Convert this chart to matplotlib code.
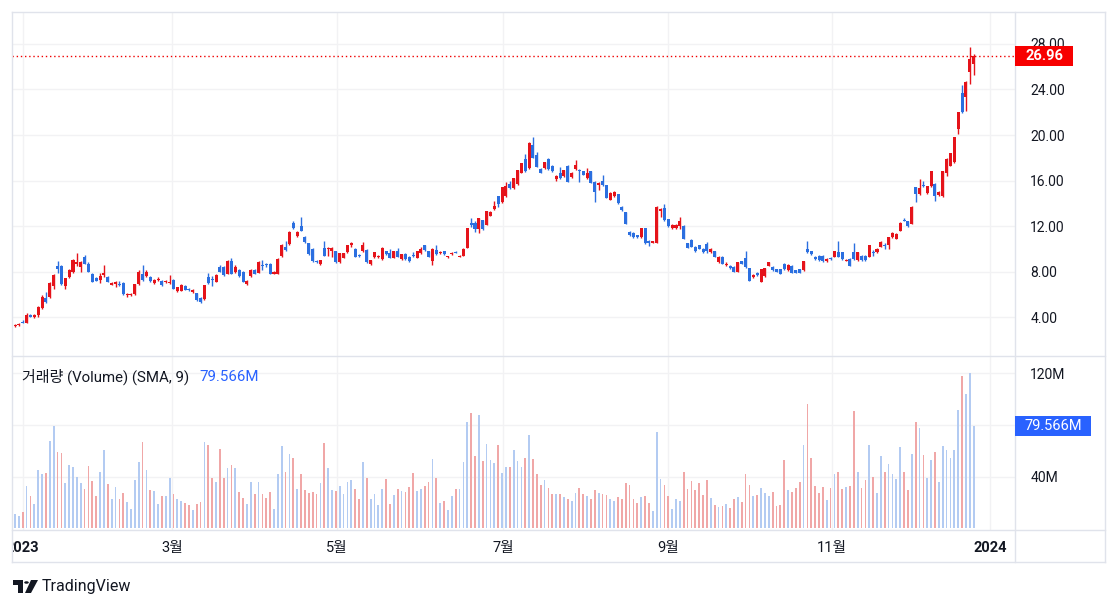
import numpy as np
import matplotlib
matplotlib.use("Agg")
import matplotlib.pyplot as plt
from matplotlib.patches import Rectangle, Polygon, Circle
from matplotlib.lines import Line2D

# daily candles, 2023 (red = up, blue = down)
opens = [
    3.20, 3.30, 3.60, 3.50, 4.20, 4.00, 4.20, 4.80, 5.70, 5.80,
    6.70, 8.45, 8.50, 6.70, 7.50, 8.00, 8.70, 8.40, 9.30, 8.70,
    7.80, 7.40, 7.30, 7.70, 7.50, 6.85, 6.95, 6.95, 7.00, 5.95,
    5.95, 6.00, 6.90, 7.80, 7.60, 7.50, 7.00, 7.25, 7.20, 7.05,
    7.00, 7.30, 6.30, 6.30, 6.70, 6.45, 6.20, 6.10, 5.65, 5.60,
    7.50, 7.35, 7.10, 8.40, 8.40, 7.80, 8.90, 8.00, 8.10, 8.00,
    6.90, 7.60, 8.10, 7.90, 8.55, 8.65, 8.70, 7.80, 7.80, 9.40,
    10.20, 10.40, 12.30, 11.10, 12.00, 11.00, 10.50, 10.00, 8.95, 8.70,
    10.10, 10.00, 9.80, 9.80, 8.80, 9.20, 9.70, 10.30, 10.00, 9.45,
    9.80, 9.90, 8.70, 9.30, 9.25, 9.10, 9.80, 9.60, 9.20, 9.80,
    9.10, 9.50, 9.30, 9.45, 9.20, 9.60, 10.30, 9.80, 8.90, 9.90,
    9.65, 9.80, 9.25, 9.55, 9.75, 9.30, 9.40, 10.10, 12.30, 12.30,
    11.70, 12.50, 12.10, 12.90, 13.50, 14.60, 14.10, 14.60, 15.70, 15.30,
    15.70, 16.70, 17.90, 17.10, 19.10, 18.20, 17.00, 17.10, 17.90, 17.30,
    16.10, 16.70, 16.40, 17.30, 16.30, 17.00, 16.95, 16.80, 16.20, 16.80,
    15.90, 15.60, 16.00, 15.60, 14.30, 14.60, 14.80, 13.70, 13.20, 11.50,
    11.40, 11.20, 11.00, 11.80, 10.70, 10.55, 10.55, 13.30, 13.60, 12.60,
    11.80, 11.80, 12.00, 12.00, 10.50, 10.80, 10.20, 10.30, 10.00, 10.40,
    9.70, 9.80, 8.80, 9.30, 8.55, 8.50, 8.40, 8.00, 8.90, 9.20,
    8.30, 7.50, 7.90, 7.10, 7.60, 8.50, 8.40, 8.20, 8.20, 8.70,
    8.10, 8.50, 8.10, 8.20, 8.10, 10.00, 9.80, 9.30, 9.40, 9.40,
    8.90, 9.20, 9.30, 9.70, 9.70, 8.95, 9.10, 9.70, 9.00, 9.40,
    9.40, 9.30, 9.75, 9.70, 10.20, 10.35, 10.30, 11.00, 10.90, 11.60,
    12.55, 12.40, 12.20, 15.40, 14.80, 15.60, 14.90, 15.50, 15.70, 14.70,
    14.60, 16.70, 17.30, 17.60, 20.50, 23.70, 23.30, 25.50, 26.20,
]
highs = [
    3.35, 3.45, 3.70, 4.35, 4.30, 4.25, 5.00, 5.90, 6.20, 7.10,
    7.80, 8.90, 8.60, 7.45, 8.20, 9.10, 9.60, 8.95, 9.45, 8.80,
    7.90, 7.50, 7.90, 8.60, 7.60, 7.05, 7.15, 7.20, 7.05, 6.10,
    6.15, 6.95, 8.10, 8.60, 8.10, 7.60, 7.35, 7.55, 7.30, 7.25,
    7.70, 7.35, 6.65, 6.90, 6.80, 6.55, 6.45, 6.15, 5.75, 6.85,
    7.85, 7.65, 7.80, 8.55, 8.50, 9.05, 9.20, 8.60, 8.20, 8.05,
    7.25, 8.20, 8.20, 8.95, 9.00, 8.75, 8.75, 8.05, 9.15, 10.40,
    10.70, 11.55, 12.40, 11.60, 12.80, 11.10, 10.55, 10.05, 9.05, 9.05,
    10.70, 10.15, 10.20, 9.85, 9.65, 9.65, 10.35, 10.60, 10.05, 9.55,
    10.60, 9.95, 9.05, 9.75, 9.45, 10.15, 9.85, 10.00, 9.85, 10.05,
    9.55, 9.60, 9.35, 9.70, 9.85, 10.15, 10.35, 9.85, 10.05, 10.30,
    9.80, 9.85, 9.40, 9.70, 9.85, 9.45, 10.10, 11.85, 12.70, 12.40,
    12.75, 12.55, 13.35, 13.30, 14.20, 14.65, 15.45, 15.90, 16.00, 16.25,
    16.95, 17.55, 18.30, 19.35, 19.80, 18.55, 17.10, 17.65, 18.00, 17.40,
    16.45, 17.20, 16.95, 17.35, 16.75, 17.80, 17.00, 16.85, 17.10, 16.85,
    15.95, 15.85, 16.50, 15.65, 14.95, 15.05, 14.85, 13.75, 13.25, 11.55,
    11.45, 11.25, 11.85, 11.85, 10.75, 10.70, 13.75, 13.55, 13.95, 12.65,
    12.15, 12.15, 12.80, 12.05, 10.55, 10.85, 10.25, 10.35, 10.05, 10.60,
    10.05, 9.85, 9.35, 9.35, 8.80, 8.55, 8.45, 8.85, 8.95, 9.80,
    8.35, 7.75, 8.00, 8.25, 8.35, 8.85, 8.45, 8.25, 8.25, 8.75,
    8.65, 8.55, 8.15, 8.25, 8.95, 10.70, 9.85, 9.35, 9.45, 9.45,
    9.15, 9.25, 9.85, 10.70, 9.75, 9.10, 9.15, 10.50, 9.75, 9.45,
    9.45, 10.35, 9.90, 10.05, 10.65, 10.50, 11.05, 11.45, 11.35, 12.35,
    12.70, 12.45, 13.75, 15.45, 16.10, 16.00, 15.55, 16.85, 15.75, 15.05,
    16.85, 17.95, 18.45, 19.85, 22.05, 24.40, 24.75, 27.70, 27.10,
]
lows = [
    3.15, 3.25, 3.45, 3.45, 4.00, 3.95, 4.05, 4.70, 5.20, 5.70,
    6.50, 7.90, 6.85, 6.50, 7.40, 7.90, 8.50, 8.00, 8.65, 7.95,
    7.05, 7.15, 7.00, 7.50, 7.05, 6.80, 6.60, 6.75, 5.95, 5.75,
    5.85, 5.90, 6.80, 7.20, 7.50, 7.10, 6.95, 7.15, 6.70, 7.00,
    6.95, 6.45, 6.20, 6.25, 6.35, 6.30, 6.10, 5.45, 5.20, 5.50,
    6.95, 6.70, 7.05, 7.95, 7.65, 7.75, 7.75, 7.90, 7.50, 7.05,
    6.80, 7.50, 7.75, 7.85, 8.10, 8.40, 7.75, 7.75, 7.75, 9.30,
    9.85, 10.35, 11.75, 11.05, 11.55, 10.55, 9.45, 8.85, 8.75, 8.60,
    9.35, 9.40, 9.30, 8.75, 8.75, 9.15, 9.60, 10.20, 9.25, 9.30,
    9.75, 8.75, 8.60, 9.20, 9.15, 9.05, 9.45, 9.15, 9.15, 9.25,
    9.05, 9.05, 8.85, 9.30, 9.15, 9.55, 9.85, 9.25, 8.60, 9.45,
    9.55, 9.45, 9.20, 9.45, 9.60, 9.25, 9.35, 10.05, 11.90, 11.50,
    11.40, 11.65, 12.05, 12.85, 13.45, 13.70, 14.05, 14.55, 15.25, 15.25,
    15.65, 16.65, 16.75, 17.05, 17.95, 17.15, 16.65, 17.05, 16.95, 16.75,
    15.95, 16.15, 16.35, 15.85, 16.25, 16.95, 15.90, 16.45, 16.15, 15.75,
    14.10, 15.20, 15.55, 14.45, 14.25, 14.55, 13.95, 13.35, 12.15, 11.15,
    10.95, 10.95, 10.95, 10.45, 10.25, 10.50, 10.50, 12.80, 12.45, 11.95,
    11.75, 11.75, 11.70, 10.85, 10.05, 10.15, 9.75, 9.95, 9.65, 9.60,
    9.65, 9.25, 8.75, 8.65, 8.50, 8.25, 7.95, 7.95, 8.65, 8.35,
    7.15, 7.45, 7.65, 7.05, 7.55, 8.45, 8.05, 7.95, 7.75, 8.15,
    8.05, 7.85, 7.85, 7.85, 8.05, 9.65, 9.45, 9.05, 8.95, 8.85,
    8.80, 9.05, 9.25, 9.25, 9.05, 8.90, 8.45, 9.05, 8.95, 8.95,
    8.95, 9.25, 9.40, 9.65, 10.15, 10.00, 10.00, 10.95, 10.85, 11.55,
    12.40, 11.95, 12.15, 14.10, 14.75, 15.45, 14.85, 15.45, 14.20, 14.60,
    14.55, 16.40, 17.25, 17.55, 20.10, 21.95, 22.10, 24.50, 25.30,
]
closes = [
    3.30, 3.40, 3.50, 4.20, 4.05, 4.20, 4.90, 5.80, 5.30, 7.00,
    7.70, 8.20, 6.90, 7.40, 8.10, 9.00, 8.80, 8.80, 8.70, 8.00,
    7.10, 7.20, 7.60, 7.90, 7.10, 7.00, 7.05, 6.80, 6.00, 6.05,
    6.05, 6.90, 8.00, 7.30, 8.00, 7.20, 7.30, 7.35, 6.80, 7.15,
    7.10, 6.50, 6.60, 6.80, 6.40, 6.35, 6.40, 5.50, 5.35, 6.80,
    7.00, 7.25, 7.70, 8.00, 7.70, 8.90, 7.80, 8.40, 7.60, 7.10,
    7.20, 8.10, 7.80, 8.80, 8.45, 8.55, 7.80, 8.00, 9.10, 10.30,
    9.90, 11.50, 11.80, 11.50, 11.60, 10.60, 9.50, 8.90, 8.85, 9.00,
    9.40, 10.10, 10.10, 8.80, 9.60, 9.60, 10.30, 10.50, 9.30, 9.35,
    10.30, 8.80, 9.00, 9.70, 9.35, 10.10, 9.50, 9.20, 9.80, 9.30,
    9.50, 9.10, 8.90, 9.35, 9.80, 10.00, 9.90, 9.30, 10.00, 9.50,
    9.75, 9.50, 9.35, 9.65, 9.65, 9.40, 10.00, 11.80, 12.10, 11.70,
    12.70, 11.70, 13.30, 13.20, 13.80, 13.90, 15.40, 15.50, 15.30, 16.20,
    16.90, 17.50, 16.80, 19.30, 18.00, 17.20, 16.70, 17.60, 17.00, 16.80,
    16.40, 16.20, 16.90, 15.90, 16.70, 17.40, 16.85, 16.50, 16.70, 15.80,
    15.00, 15.80, 15.60, 14.50, 14.90, 15.00, 14.00, 13.40, 12.20, 11.20,
    11.00, 11.00, 11.80, 10.50, 10.50, 10.65, 13.70, 13.50, 12.50, 12.00,
    12.10, 12.10, 12.40, 10.90, 10.10, 10.20, 9.80, 10.00, 9.70, 9.80,
    10.00, 9.30, 9.30, 8.70, 8.65, 8.30, 8.00, 8.80, 8.70, 8.40,
    7.20, 7.70, 7.70, 8.20, 8.30, 8.80, 8.10, 8.00, 7.80, 8.20,
    8.60, 7.90, 7.90, 7.90, 8.90, 9.70, 9.50, 9.10, 9.00, 8.90,
    9.10, 9.10, 9.80, 9.30, 9.10, 9.05, 8.50, 9.10, 9.70, 9.00,
    9.00, 10.30, 9.65, 10.00, 10.60, 10.25, 11.00, 11.40, 11.30, 12.30,
    12.45, 12.00, 13.70, 14.80, 15.30, 15.50, 15.50, 16.80, 14.60, 15.00,
    16.80, 17.90, 18.40, 19.80, 22.00, 22.00, 24.70, 26.70, 26.96,
]
# volume in millions
volumes = [
    11.5, 10, 13, 32.5, 25.4, 19.2, 45.4, 42.3, 42.8, 67.7,
    79.5, 59.2, 58.2, 35.1, 49, 47.4, 39.7, 35, 30.8, 48.5,
    36.7, 24.9, 43.8, 60.8, 34.6, 22.8, 32, 22.8, 27.4, 20.3,
    15.1, 37.2, 51.5, 66.9, 44.9, 30, 29, 19.2, 25.4, 25.4,
    38.7, 26.9, 22.8, 21.3, 19.7, 18.5, 14.6, 19.2, 20.8, 66.9,
    64.6, 38.7, 36.2, 61.3, 39.2, 46.4, 49, 46.4, 28.5, 23.8,
    19.2, 36.2, 26.4, 36.2, 26.4, 23.8, 27.9, 15.1, 42.3, 63.8,
    43.8, 57.7, 54.6, 30.3, 42.3, 29.5, 27.4, 28.5, 26.9, 35,
    65.9, 46.4, 30, 29, 33, 27, 36.2,
    37.7, 30.5, 22.8, 51.5, 39.2, 22.8, 26.4, 18.2, 30.5, 38.2,
    19.2, 25.9, 30.5, 29, 28.5, 32, 42.8, 29, 30.5, 33,
    36.2, 53.6, 39.2, 19.7, 21, 14.6, 25.4, 30.5, 30.5, 51.5,
    82.3, 89.5, 56.2, 87.4, 52, 65.4, 53, 51, 64.4, 42.8,
    47.4, 47.4, 60.8, 52, 47.4, 54.6, 72, 53.6, 42.3, 33.6,
    37.7, 31.5, 27, 27, 27, 24.4, 22.8, 21.3, 27.4, 31.5,
    27, 25.4, 22.8, 30, 27.4, 27, 25.9, 22.8, 21, 24.4,
    22.8, 35.1, 33.6, 22.8, 19.7, 24.4, 25.4, 19.7, 13.6, 74.6,
    38.2, 33.6, 25.4, 15.1, 22.8, 21, 43.8, 30.5,
    36.7, 30, 35.1, 25.9, 37.7, 23.8, 18.2, 16.7, 17.7, 19.2,
    16.2, 22.8, 24.4, 20.3, 42.3, 33.6, 25.4, 25.9, 31, 27.4,
    25.4, 28.5, 17.7, 18.2, 53, 30, 27.9, 31.5, 36.2, 64.4,
    96.2, 54.6, 32.6, 27.4, 32.1, 22.3, 31.5, 42.3, 43.8, 30.5,
    32.1, 33, 90.5, 43.3, 31.5, 37.7, 64.9, 39.7, 27.4, 56.2,
    43.3, 50, 42.3, 38.2, 62.8, 43.3, 30, 57.7, 82.3, 77.7,
    56.7, 38.7, 53, 59.2, 36.2, 63.8, 60.8, 54.6, 60.8, 92,
    118, 104, 120, 79.566,
]
month_labels = ["2023", "3월", "5월", "7월", "9월", "11월", "2024"]
month_pos = [2.0, 40.6, 83.3, 126.2, 168.9, 211.3, 252.2]
price_ticks = [4, 8, 12, 16, 20, 24, 28]
vol_ticks = [40, 80, 120]
last_price = closes[-1]
last_volume = volumes[-1]

W, H = 1118, 609
UP, DOWN = "#e5131a", "#2b6fe0"
VUP, VDOWN = "#b3cbf2", "#f0a7a7"
GRID = "#f2f2f4"
LINE = "#e0e3eb"
TXT = "#131722"
FONT = ["Roboto", "Noto Sans CJK KR", "DejaVu Sans"]


def fx(x):
    return x / W


def fy(y):
    return 1 - y / H


fig = plt.figure(figsize=(W / 100, H / 100), dpi=100, facecolor="white")
L, R = 12, 1015
ax_p = fig.add_axes([fx(L), fy(356), fx(R) - fx(L), fy(12) - fy(356)])
ax_v = fig.add_axes([fx(L), fy(530), fx(R) - fx(L), fy(356) - fy(530)], sharex=ax_p)
ax_t = fig.add_axes([fx(L), fy(562), fx(R) - fx(L), fy(530) - fy(562)], sharex=ax_p)

o = np.array(opens)
h = np.array(highs)
lo = np.array(lows)
c = np.array(closes)
v = np.array(volumes)
x = np.arange(len(c))
up = c >= o

# candles
cols = np.where(up, UP, DOWN)
ax_p.vlines(x, lo, h, colors=cols, lw=1, zorder=3)
body = np.maximum(np.abs(c - o), 0.07)
ax_p.bar(x, body, bottom=np.minimum(o, c), width=0.78, color=cols, lw=0, zorder=4)
ax_p.axhline(last_price, color="#f00000", lw=1, ls=(0, (1, 2)), zorder=5)

# volume (blue on up days, red on down days)
ax_v.bar(x, v, width=0.45, color=np.where(up, VUP, VDOWN), lw=0, zorder=3)

xmin, xmax = -0.78, 258.7
for a in (ax_p, ax_v, ax_t):
    a.set_xlim(xmin, xmax)
    for s in a.spines.values():
        s.set_visible(False)
    a.set_xticks(month_pos)
    a.tick_params(axis="x", length=0, labelbottom=False)

ax_p.set_ylim(0.58, 30.81)
ax_v.set_ylim(-1.2, 133.4)
ax_p.grid(True, color=GRID, lw=1, zorder=0)
ax_v.grid(True, color=GRID, lw=1, zorder=0)

ax_p.yaxis.tick_right()
ax_p.set_yticks(price_ticks)
ax_p.set_yticklabels([f"{t:.2f}" for t in price_ticks])
ax_v.yaxis.tick_right()
ax_v.set_yticks(vol_ticks)
ax_v.set_yticklabels(["40M", "", "120M"])
for a in (ax_p, ax_v):
    a.tick_params(axis="y", length=0, pad=11, labelsize=10, labelcolor=TXT)
    for t in a.get_yticklabels():
        t.set_family(FONT)

# time axis labels
ax_t.set_ylim(0, 1)
ax_t.set_yticks([])
ax_t.patch.set_alpha(0)
for pos, lab in zip(month_pos, month_labels):
    bold = lab.isdigit()
    ax_t.text(pos, 0.45, lab, ha="center", va="center", fontsize=10.5, color=TXT,
              fontweight="bold" if bold else "normal", family=FONT, clip_on=True)

# frame lines
for xs, ys in [((12, 1105), (12, 12)), ((12, 1105), (562, 562)), ((12, 12), (12, 562)),
               ((1105, 1105), (12, 562)), ((1015, 1015), (12, 562)),
               ((12, 1105), (356, 356)), ((12, 1105), (530, 530))]:
    fig.add_artist(Line2D([fx(xs[0]), fx(xs[1])], [fy(ys[0]), fy(ys[1])], color=LINE, lw=1))

# last value labels on the scales
to_fig = fig.transFigure.inverted()
yp = to_fig.transform(ax_p.transData.transform((0, last_price)))[1]
fig.add_artist(Rectangle((fx(1015), yp - 10 / H), 58 / W, 20 / H, transform=fig.transFigure,
                         fc="#f70000", ec="none", zorder=5))
fig.text(fx(1044), yp, f"{last_price:.2f}", ha="center", va="center", color="white",
         fontsize=10.5, fontweight="bold", family=FONT, zorder=6)
yv = to_fig.transform(ax_v.transData.transform((0, last_volume)))[1]
fig.add_artist(Rectangle((fx(1015), yv - 10 / H), 76 / W, 20 / H, transform=fig.transFigure,
                         fc="#2962ff", ec="none", zorder=5))
fig.text(fx(1053), yv, f"{last_volume:.3f}M", ha="center", va="center", color="white",
         fontsize=10.5, family=FONT, zorder=6)

# volume legend
leg = fig.text(fx(22), fy(377), "거래량 (Volume) (SMA, 9)", ha="left", va="center",
               fontsize=10.8, color=TXT, family=FONT)
fig.canvas.draw()
bb = leg.get_window_extent()
fig.text(fx(bb.x1 + 10), fy(377), f"{last_volume:.3f}M", ha="left", va="center",
         fontsize=10.8, color="#2962ff", family=FONT)

# TradingView mark
fig.add_artist(Polygon([(fx(13), fy(580)), (fx(23), fy(580)), (fx(23), fy(593)),
                        (fx(18), fy(593)), (fx(18), fy(585)), (fx(13), fy(585))],
                       closed=True, fc=TXT, ec="none", transform=fig.transFigure))
fig.add_artist(Circle((fx(26.5), fy(582.5)), 2.3 / W, fc=TXT, ec="none",
                      transform=fig.transFigure))
fig.add_artist(Polygon([(fx(31), fy(580)), (fx(38), fy(580)), (fx(31), fy(593)),
                        (fx(25), fy(593))],
                       closed=True, fc=TXT, ec="none", transform=fig.transFigure))
fig.text(fx(42), fy(587), "TradingView", ha="left", va="center", fontsize=11.5,
         color=TXT, family=FONT)

fig.savefig("out.png", dpi=100, facecolor="white")
